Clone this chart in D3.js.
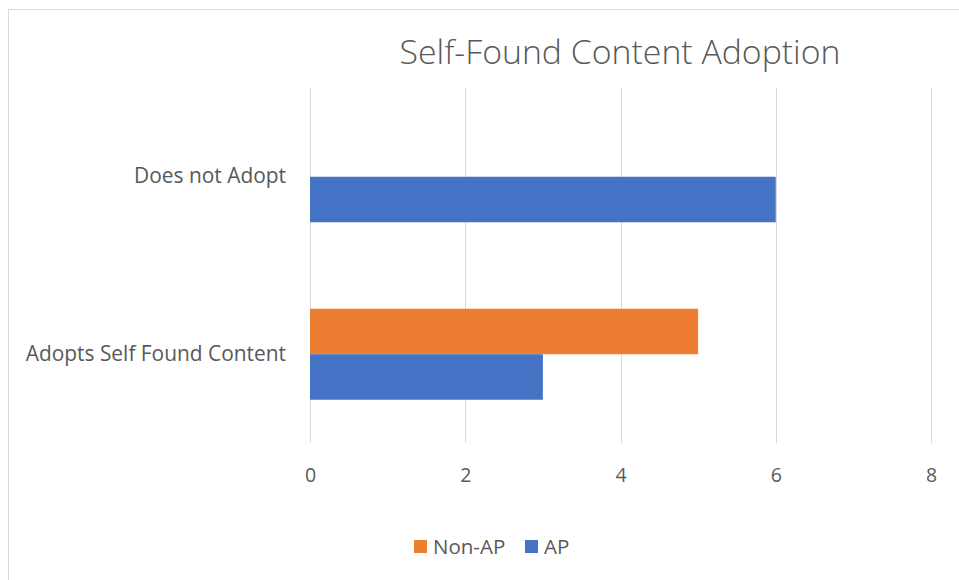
<!DOCTYPE html>
<html><head><meta charset="utf-8">
<script src="https://cdn.jsdelivr.net/npm/d3@7"></script>
<style>body{margin:0;background:#fff;} text{font-family:"Open Sans",sans-serif;fill:#595959;}</style>
</head><body><svg id="c" width="959" height="580"></svg>
<script>
const categories = ["Does not Adopt", "Adopts Self Found Content"];
const seriesNames = ["Non-AP", "AP"];
const nonAP = [0, 5];
const ap = [6, 3];
const xTicks = [0, 2, 4, 6, 8];
const colors = ["#ED7D31", "#4472C4"];
const title = "Self-Found Content Adoption";

(function () {
const svg = d3.select("#c");
svg.append("rect").attr("x", 8.5).attr("y", 9.5).attr("width", 970).attr("height", 600)
  .attr("fill", "#fff").attr("stroke", "#d9d9d9");

const pLeft = 310, pRight = 931, pTop = 88, pBottom = 443;
const x = d3.scaleLinear().domain([0, 8]).range([pLeft, pRight]);
const y = d3.scaleBand().domain(categories).range([pTop, pBottom]);

svg.append("g").selectAll("line").data(xTicks).join("line")
  .attr("x1", d => Math.round(x(d)) + 0.5).attr("x2", d => Math.round(x(d)) + 0.5)
  .attr("y1", pTop).attr("y2", pBottom).attr("stroke", "#d9d9d9").attr("stroke-width", 1);

const barH = 45.5;
const data = [nonAP, ap];
data.forEach((vals, si) => {
  svg.append("g").selectAll("rect").data(vals).join("rect")
    .attr("x", x(0))
    .attr("y", (d, i) => y(categories[i]) + y.bandwidth() / 2 - barH + si * barH)
    .attr("width", d => x(d) - x(0))
    .attr("height", barH)
    .attr("fill", colors[si]);
});

const xAxis = d3.axisBottom(x).tickValues(xTicks).tickSize(0).tickPadding(0);
const gx = svg.append("g").attr("transform", `translate(0,${pBottom})`).call(xAxis);
gx.select(".domain").remove();
gx.selectAll("text").attr("font-size", 19.5).attr("fill", "#595959").style("font-family", "Open Sans")
  .attr("y", 39).attr("dy", null);

const yAxis = d3.axisLeft(y).tickSize(0).tickPadding(24);
const gy = svg.append("g").attr("transform", `translate(${pLeft},0)`).call(yAxis);
gy.select(".domain").remove();
gy.selectAll("text").attr("font-size", 20.9).attr("fill", "#595959").style("font-family", "Open Sans").attr("dy", "0.3em");

svg.append("text").attr("x", 620).attr("y", 64).attr("text-anchor", "middle")
  .attr("font-size", 33.8).attr("font-weight", 300).text(title);

const legX = [414, 525];
seriesNames.forEach((s, i) => {
  svg.append("rect").attr("x", legX[i]).attr("y", 540).attr("width", 13).attr("height", 13).attr("fill", colors[i]);
  svg.append("text").attr("x", legX[i] + 19).attr("y", 554).attr("font-size", 20.5).text(s);
});
})();
</script></body></html>
